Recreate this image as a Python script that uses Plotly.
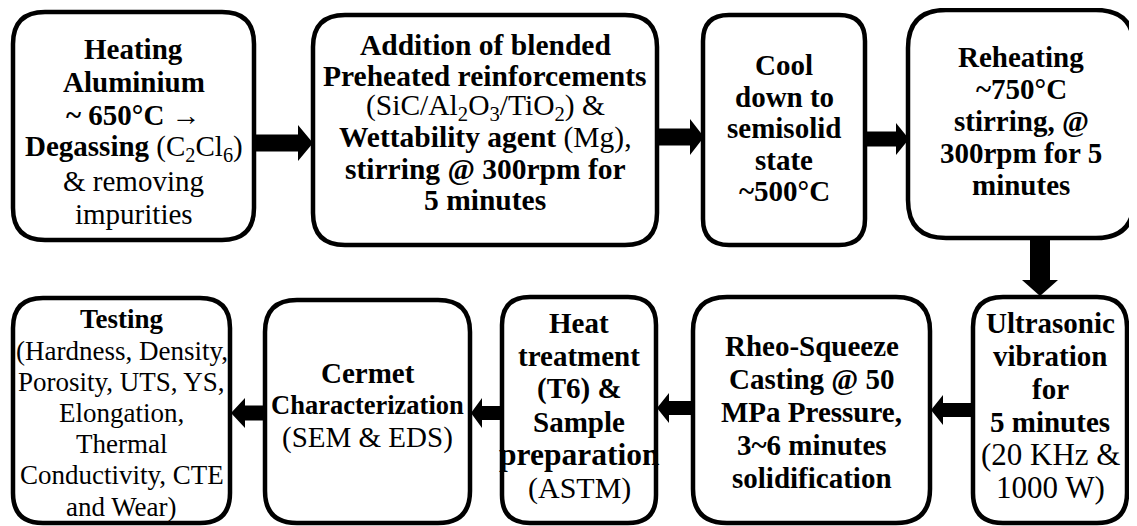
import plotly.graph_objects as go

W, H = 1137, 526
PAGE_OFFSET = 8  # default body margin of the html page

# ---- flowchart content (process steps, in order) ----
step_names = ["heat", "add", "cool", "reheat", "ultra", "rheo", "treat", "cermet", "test"]
step_lines = [
    ["<b>Heating</b>", "<b>Aluminium</b>", "<b>~ 650°C →</b>",
     "<b>Degassing</b> (C<sub>2</sub>Cl<sub>6</sub>)", "&amp; removing", "impurities"],
    ["<b>Addition of blended</b>", "<b>Preheated reinforcements</b>",
     "(SiC/Al<sub>2</sub>O<sub>3</sub>/TiO<sub>2</sub>) &amp;",
     "<b>Wettability agent</b> (Mg),", "<b>stirring @ 300rpm for</b>", "<b>5 minutes</b>"],
    ["<b>Cool</b>", "<b>down to</b>", "<b>semisolid</b>", "<b>state</b>", "<b>~500°C</b>"],
    ["<b>Reheating</b>", "<b>~750°C</b>", "<b>stirring, @</b>", "<b>300rpm for 5</b>", "<b>minutes</b>"],
    ["<b>Ultrasonic</b>", "<b>vibration</b>", "<b>for</b>", "<b>5 minutes</b>",
     "(20 KHz &amp;", "1000 W)"],
    ["<b>Rheo-Squeeze</b>", "<b>Casting @ 50</b>", "<b>MPa Pressure,</b>",
     "<b>3~6 minutes</b>", "<b>solidification</b>"],
    ["<b>Heat</b>", "<b>treatment</b>", "<b>(T6) &amp;</b>", "<b>Sample</b>",
     "<b>preparation</b>", "(ASTM)"],
    ["<b>Cermet</b>", "<b>Characterization</b>", "(SEM &amp; EDS)"],
    ["<b>Testing</b>", "(Hardness, Density,", "Porosity, UTS, YS,", "Elongation,",
     "Thermal", "Conductivity, CTE", "and Wear)"],
]

# ---- layout geometry (pixel space of the picture) ----
box_x0 = [13, 313, 703, 908, 973, 693, 502, 265, 13]
box_x1 = [254, 657, 865, 1134, 1127, 930, 656, 470, 230]
box_y0 = [12, 15, 15, 10, 297, 297, 297, 300, 298]
box_y1 = [240, 245, 245, 238, 523, 523, 523, 523, 523]
box_r = [32, 32, 26, 38, 30, 34, 28, 32, 30]
text_cy = [131, 122, 128, 121, 405, 412, 405, 405, 413]
line_gap = [33, 31, 31.5, 32, 33, 33, 33, 32.5, 31.2]
font_px = [29, 29.5, 29, 29, 29, 29, 29, 29, 27]
font_override = {(7, 1): 26.5, (4, 4): 31, (4, 5): 31, (6, 4): 31.5, (6, 5): 30}

# arrows: (start, end, fixed coordinate, orientation, shaft, head width, head length)
arrow_specs = [
    (254, 313, 143, "h", 17, 36, 15),
    (657, 704, 137, "h", 17, 36, 14),
    (865, 909, 139, "h", 15, 32, 13),
    (240, 296, 1040, "v", 20, 36, 16),
    (973, 931, 410, "h", 14, 30, 12),
    (693, 657, 408, "h", 14, 30, 12),
    (502, 471, 413, "h", 14, 30, 11),
    (265, 231, 413, "h", 15, 30, 14),
]

FONT = "Liberation Serif, Times New Roman, serif"


def rounded_rect(x0, y0, x1, y1, r):
    return (f"M {x0+r},{y0} L {x1-r},{y0} Q {x1},{y0} {x1},{y0+r} "
            f"L {x1},{y1-r} Q {x1},{y1} {x1-r},{y1} L {x0+r},{y1} "
            f"Q {x0},{y1} {x0},{y1-r} L {x0},{y0+r} Q {x0},{y0} {x0+r},{y0} Z")


def arrow_path(a, b, c, orient, shaft, head_w, head_l):
    d = 1 if b > a else -1
    neck = b - d * head_l
    s, hw = shaft / 2, head_w / 2
    pts = [(a, c - s), (neck, c - s), (neck, c - hw), (b, c),
           (neck, c + hw), (neck, c + s), (a, c + s)]
    if orient == "v":
        pts = [(y, x) for x, y in pts]
    return "M " + " L ".join(f"{x},{y}" for x, y in pts) + " Z"


fig = go.Figure()
shapes = []
for i in range(len(step_names)):
    shapes.append(dict(type="path", xref="x", yref="y",
                       path=rounded_rect(box_x0[i], box_y0[i], box_x1[i], box_y1[i], box_r[i]),
                       line=dict(color="black", width=4.5), fillcolor="white", layer="below"))
for spec in arrow_specs:
    shapes.append(dict(type="path", xref="x", yref="y", path=arrow_path(*spec),
                       line=dict(color="black", width=0), fillcolor="black", layer="above"))

annotations = []
for i, lines in enumerate(step_lines):
    n = len(lines)
    cx = (box_x0[i] + box_x1[i]) / 2
    for j, t in enumerate(lines):
        y = text_cy[i] + (j - (n - 1) / 2) * line_gap[i]
        annotations.append(dict(x=cx, y=y, xref="x", yref="y", text=t, showarrow=False,
                                xanchor="center", yanchor="middle",
                                font=dict(family=FONT, size=font_override.get((i, j), font_px[i]),
                                          color="black")))

fig.update_layout(
    width=W - PAGE_OFFSET, height=H - PAGE_OFFSET, margin=dict(l=0, r=0, t=0, b=0),
    paper_bgcolor="white", plot_bgcolor="white",
    xaxis=dict(range=[PAGE_OFFSET, W], visible=False, fixedrange=True),
    yaxis=dict(range=[H, PAGE_OFFSET], visible=False, fixedrange=True),
    shapes=shapes, annotations=annotations, showlegend=False,
)
fig.write_html("out.html")
